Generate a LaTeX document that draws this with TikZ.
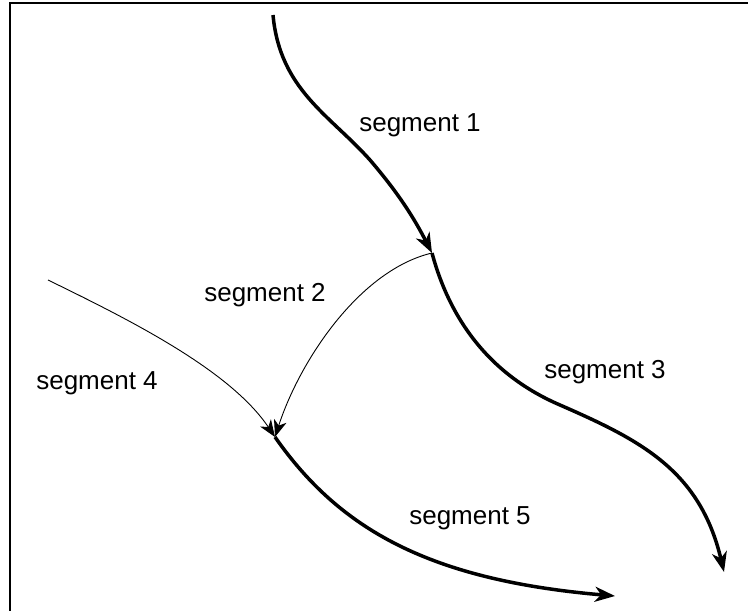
\documentclass[tikz,border=0pt]{standalone}
\usepackage{fontspec}
\setmainfont{Liberation Sans}
\usetikzlibrary{arrows.meta}
\tikzset{
  thickseg/.style={line width=3.5pt, -{Stealth[length=20pt,width=15pt,inset=6pt]}},
  thinseg/.style={line width=0.9pt, -{Stealth[length=17pt,width=13pt,inset=5pt]}},
  seglabel/.style={font=\fontsize{26}{30}\selectfont, inner sep=0pt}
}
\begin{document}
\begin{tikzpicture}[x=1pt, y=-1pt]
	\useasboundingbox (0,0) rectangle (748,611);
	\draw[line width=2.5pt] (10,611) -- (10,3) -- (748,3);
	\coordinate (top) at (273,15);
	\coordinate (fork) at (432,253);
	\coordinate (left) at (48,280);
	\coordinate (join) at (275,437);
	\coordinate (end3) at (724,572);
	\coordinate (end5) at (615,596);
	\draw[thickseg] (top) .. controls (280,90) and (330,115) .. (370,160) .. controls (400,195) and (415,220) .. (fork);
	\draw[thickseg] (fork) .. controls (450,320) and (490,375) .. (560,405) .. controls (640,440) and (700,470) .. (end3);
	\draw[thinseg] (fork) .. controls (360,270) and (300,360) .. (join);
	\draw[thinseg] (left) .. controls (130,320) and (230,370) .. (join);
	\draw[thickseg] (join) .. controls (340,530) and (430,580) .. (end5);
	\node[seglabel] (l1) at (420,125) {segment 1};
	\node[seglabel] (l2) at (265,295) {segment 2};
	\node[seglabel] (l3) at (605,372) {segment 3};
	\node[seglabel] (l4) at (97,383) {segment 4};
	\node[seglabel] (l5) at (470,518) {segment 5};
\end{tikzpicture}
\end{document}
